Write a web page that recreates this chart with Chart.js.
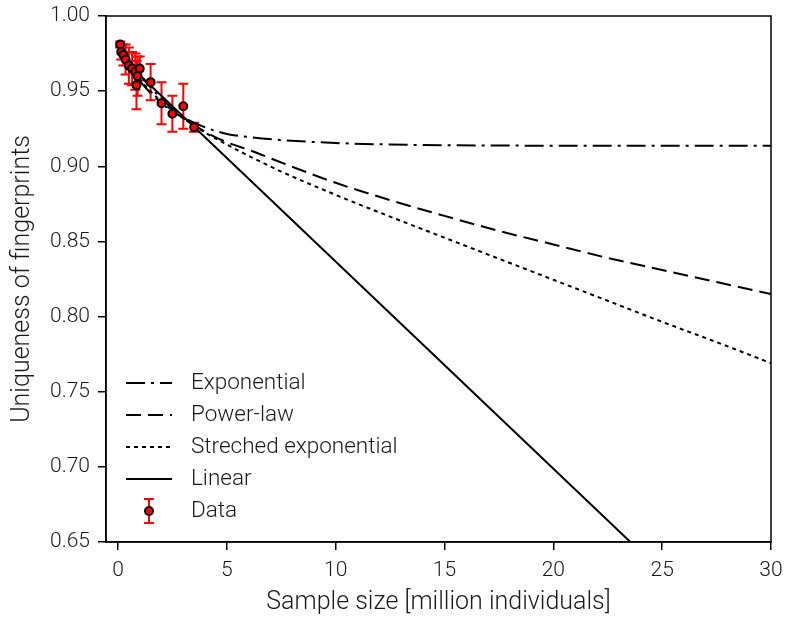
<!DOCTYPE html>
<html>
<head>
<meta charset="utf-8">
<script src="https://cdn.jsdelivr.net/npm/chart.js@4.4.1/dist/chart.umd.min.js"></script>
<style>
    html, body { margin: 0; padding: 0; background: #fff; }
    #wrap { width: 786px; height: 618px; }
</style>
</head>
<body>
<div id="wrap"><canvas id="chart"></canvas></div>
<script>
const sampleX   = [0.1, 0.15, 0.25, 0.35, 0.5, 0.65, 0.8, 0.85, 0.9, 1.0, 1.5, 2.0, 2.5, 3.0, 3.5];
const sampleY   = [0.981, 0.976, 0.974, 0.971, 0.967, 0.965, 0.963, 0.954, 0.960, 0.965, 0.956, 0.942, 0.935, 0.940, 0.926];
const sampleErr = [0.002, 0.005, 0.007, 0.010, 0.012, 0.011, 0.012, 0.016, 0.013, 0.008, 0.012, 0.014, 0.012, 0.015, 0.003];

// Curvas de ajuste
const fitX        = [0.1, 0.5, 1, 2, 3, 4, 5, 6, 7.5, 10, 12.5, 15, 17.5, 20, 22.5, 25, 27.5, 30];
const expY        = [0.981, 0.971, 0.961, 0.945, 0.933, 0.926, 0.9215, 0.9195, 0.9175, 0.9155, 0.9145, 0.914, 0.9138, 0.9137, 0.9136, 0.9136, 0.9136, 0.9136];
const powerY      = [0.982, 0.968, 0.957, 0.942, 0.932, 0.923, 0.916, 0.911, 0.9025, 0.889, 0.8775, 0.867, 0.857, 0.848, 0.839, 0.831, 0.823, 0.815];
const stretchedY  = [0.982, 0.969, 0.958, 0.943, 0.932, 0.9225, 0.9145, 0.907, 0.8965, 0.881, 0.8665, 0.8525, 0.8385, 0.8245, 0.8105, 0.7965, 0.783, 0.769];
const linearX     = [0.1, 30];
const linearY     = [0.973, 0.561];

// Eixos
const xTicks = [0, 5, 10, 15, 20, 25, 30];
const yTicks = [0.65, 0.70, 0.75, 0.80, 0.85, 0.90, 0.95, 1.00];

const toPoints = (xs, ys) => xs.map((v, i) => ({ x: v, y: ys[i] }));

const FONT = 'Roboto, "Liberation Sans", sans-serif';
Chart.defaults.font.family = FONT;
Chart.defaults.font.weight = 300;
Chart.defaults.color = '#1a1a1a';

// Barras de erro
const errorBars = {
    id: 'errorBars',
    beforeDatasetsDraw(chart) {
        const { ctx, scales: { x, y } } = chart;
        ctx.save();
        ctx.strokeStyle = '#ff0000';
        ctx.lineWidth = 2;
        sampleX.forEach((v, i) => {
            const px = x.getPixelForValue(v);
            const top = y.getPixelForValue(sampleY[i] + sampleErr[i]);
            const bot = y.getPixelForValue(sampleY[i] - sampleErr[i]);
            ctx.beginPath();
            ctx.moveTo(px, top); ctx.lineTo(px, bot);
            ctx.moveTo(px - 5, top); ctx.lineTo(px + 5, top);
            ctx.moveTo(px - 5, bot); ctx.lineTo(px + 5, bot);
            ctx.stroke();
        });
        ctx.restore();
    }
};

// Moldura + legenda no canto inferior esquerdo
const frameLegend = {
    id: 'frameLegend',
    afterDraw(chart) {
        const { ctx, chartArea: a } = chart;
        ctx.save();
        ctx.strokeStyle = '#000';
        ctx.lineWidth = 1.5;
        ctx.strokeRect(a.left, a.top, a.right - a.left, a.bottom - a.top);

        const order = [1, 2, 3, 4, 0];
        const x0 = a.left + 20, x1 = a.left + 66, tx = a.left + 85;
        let yRow = a.top + 367;
        ctx.font = '300 22.5px ' + FONT;
        ctx.textBaseline = 'middle';
        ctx.textAlign = 'left';
        order.forEach(idx => {
            const ds = chart.data.datasets[idx];
            if (idx === 0) {
                const cx = (x0 + x1) / 2;
                ctx.setLineDash([]);
                ctx.strokeStyle = '#ff0000';
                ctx.lineWidth = 2;
                ctx.beginPath();
                ctx.moveTo(cx, yRow - 12); ctx.lineTo(cx, yRow + 12);
                ctx.moveTo(cx - 5, yRow - 12); ctx.lineTo(cx + 5, yRow - 12);
                ctx.moveTo(cx - 5, yRow + 12); ctx.lineTo(cx + 5, yRow + 12);
                ctx.stroke();
                ctx.beginPath();
                ctx.arc(cx, yRow, 4, 0, Math.PI * 2);
                ctx.fillStyle = '#ff0000';
                ctx.fill();
                ctx.strokeStyle = '#000';
                ctx.stroke();
            } else {
                ctx.setLineDash(ds.borderDash || []);
                ctx.strokeStyle = '#000';
                ctx.lineWidth = ds.borderWidth;
                ctx.beginPath();
                ctx.moveTo(x0, yRow); ctx.lineTo(x1, yRow);
                ctx.stroke();
            }
            ctx.setLineDash([]);
            ctx.fillStyle = '#1a1a1a';
            ctx.fillText(ds.label, tx, yRow);
            yRow += 32;
        });
        ctx.restore();
    }
};

const lineStyle = {
    showLine: true,
    pointRadius: 0,
    borderColor: '#000',
    borderWidth: 2,
    fill: false,
    cubicInterpolationMode: 'monotone'
};

new Chart(document.getElementById('chart'), {
    type: 'scatter',
    data: {
        datasets: [{
            label: 'Data',
            data: toPoints(sampleX, sampleY),
            pointRadius: 4,
            pointBorderWidth: 2,
            pointBackgroundColor: '#ff0000',
            pointBorderColor: '#000',
            showLine: false
        }, {
            ...lineStyle,
            label: 'Exponential',
            data: toPoints(fitX, expY),
            borderDash: [19, 6, 3, 6]
        }, {
            ...lineStyle,
            label: 'Power-law',
            data: toPoints(fitX, powerY),
            borderDash: [15, 7]
        }, {
            ...lineStyle,
            label: 'Streched exponential',
            data: toPoints(fitX, stretchedY),
            borderDash: [4, 4]
        }, {
            ...lineStyle,
            label: 'Linear',
            data: toPoints(linearX, linearY)
        }]
    },
    options: {
        responsive: true,
        maintainAspectRatio: false,
        devicePixelRatio: 1,
        animation: false,
        layout: { padding: { top: 16, right: 15, left: 0, bottom: 0 } },
        plugins: {
            legend: { display: false },
            tooltip: { enabled: false }
        },
        scales: {
            x: {
                type: 'linear',
                min: -0.55,
                max: 30,
                afterFit(scale) {
                    scale.height = 76;
                    scale.paddingLeft = 0;
                    scale.paddingRight = 0;
                },
                afterBuildTicks(scale) { scale.ticks = xTicks.map(v => ({ value: v })); },
                ticks: { font: { size: 21 }, padding: 8, callback: v => String(v) },
                grid: { drawOnChartArea: false, drawTicks: true, tickLength: 8, color: '#000', lineWidth: 1.5 },
                border: { display: true, color: '#000', width: 1.5 },
                title: { display: true, text: 'Sample size [million individuals]', font: { size: 25 }, padding: { top: 0, bottom: 0 } }
            },
            y: {
                min: 0.65,
                max: 1.00,
                afterFit(scale) {
                    scale.width = 106;
                    scale.paddingTop = 0;
                    scale.paddingBottom = 0;
                },
                afterBuildTicks(scale) { scale.ticks = yTicks.map(v => ({ value: v })); },
                ticks: { font: { size: 21 }, padding: 8, callback: v => v.toFixed(2) },
                grid: { drawOnChartArea: false, drawTicks: true, tickLength: 8, color: '#000', lineWidth: 1.5 },
                border: { display: true, color: '#000', width: 1.5 },
                title: { display: true, text: 'Uniqueness of fingerprints', font: { size: 25 }, padding: { top: 8, bottom: 0 } }
            }
        }
    },
    plugins: [errorBars, frameLegend]
});
</script>
</body>
</html>
